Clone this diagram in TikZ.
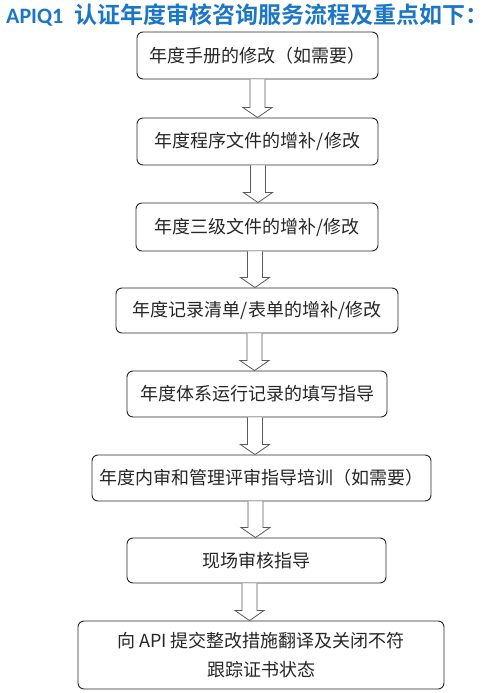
\documentclass[tikz,border=0pt]{standalone}
\usepackage{fontspec}
\usetikzlibrary{calc}
\newfontfamily\cjk{Noto Sans CJK SC}
\newfontfamily\cjkbold{Noto Sans CJK SC Bold}
\newfontfamily\latinbold{Carlito}[BoldFont={* Bold}]
\definecolor{titleblue}{RGB}{28,118,198}
\definecolor{boxline}{RGB}{40,40,40}
\definecolor{arrline}{RGB}{90,90,90}
\tikzset{
  box/.style={draw=boxline, line width=0.9pt, rounded corners=6pt, rectangle, inner sep=0pt,
    font=\cjk\fontsize{18}{29}\selectfont, text=black!85, align=center},
  blockarr/.style={draw=arrline, line width=0.8pt, fill=white, line join=miter}
}
\newcommand{\blockarrow}[2]{%
  \draw[blockarr] let \p1=(#1), \p2=(#2) in
    (\x1-7.5pt,\y1) -- (\x1-7.5pt,\y2+10pt) -- (\x1-14.5pt,\y2+10pt) -- (\x1,\y2)
    -- (\x1+14.5pt,\y2+10pt) -- (\x1+7.5pt,\y2+10pt) -- (\x1+7.5pt,\y1);}
\begin{document}
\begin{tikzpicture}[x=1pt,y=-1pt]
\useasboundingbox (0,0) rectangle (500,693);
\node[anchor=west, text=titleblue, inner sep=0pt] (title) at (6,15)
  {{\latinbold\bfseries\fontsize{22}{24}\selectfont APIQ1}\hspace{11pt}{\cjkbold\fontsize{23}{26}\selectfont 认证年度审核咨询服务流程及重点如下：}};
\node[box, minimum width=241pt, minimum height=47pt] (b1) at (257.5,55.5) {年度手册的修改（如需要）};
\node[box, minimum width=241pt, minimum height=47pt] (b2) at (257.5,141.5) {年度程序文件的增补/修改};
\node[box, minimum width=242pt, minimum height=48pt] (b3) at (257,227) {年度三级文件的增补/修改};
\node[box, minimum width=282pt, minimum height=45pt] (b4) at (257,310.5) {年度记录清单/表单的增补/修改};
\node[box, minimum width=260pt, minimum height=46pt] (b5) at (257,394) {年度体系运行记录的填写指导};
\node[box, minimum width=339pt, minimum height=46pt] (b6) at (261.5,478) {年度内审和管理评审指导培训（如需要）};
\node[box, minimum width=259pt, minimum height=45pt] (b7) at (256.5,560.5) {现场审核指导};
\node[box, minimum width=366pt, minimum height=68pt] (b8) at (261,655) {向 API 提交整改措施翻译及关闭不符\\跟踪证书状态};
\coordinate (s1) at ([xshift=0pt]b1.south);  \coordinate (t1) at ([xshift=0pt]b2.north);
\coordinate (s2) at ([xshift=0.5pt]b2.south); \coordinate (t2) at ([xshift=0.5pt]b3.north);
\coordinate (s3) at ([xshift=-2pt]b3.south); \coordinate (t3) at ([xshift=-2pt]b4.north);
\coordinate (s4) at ([xshift=-2.5pt]b4.south); \coordinate (t4) at ([xshift=-2.5pt]b5.north);
\coordinate (s5) at ([xshift=-2pt]b5.south); \coordinate (t5) at ([xshift=-8.5pt]b6.north);
\coordinate (s6) at ([xshift=-6pt]b6.south); \coordinate (t6) at ([xshift=-6pt]b7.north);
\coordinate (s7) at ([xshift=-7pt]b7.south); \coordinate (t7) at ([xshift=-11.5pt]b8.north);
\blockarrow{s1}{t1}
\blockarrow{s2}{t2}
\blockarrow{s3}{t3}
\blockarrow{s4}{t4}
\blockarrow{s5}{t5}
\blockarrow{s6}{t6}
\blockarrow{s7}{t7}
\end{tikzpicture}
\end{document}
